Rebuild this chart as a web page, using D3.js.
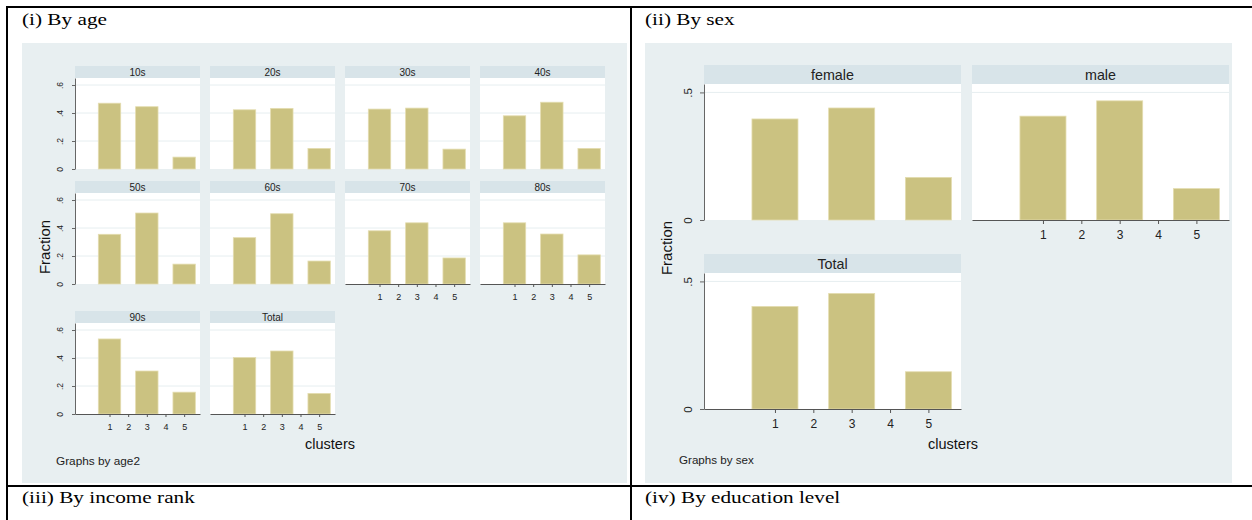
<!DOCTYPE html>
<html>
<head>
<meta charset="utf-8">
<script src="https://cdn.jsdelivr.net/npm/d3@7"></script>
<style>
  body { margin: 0; background: #fff; }
  svg { display: block; }
</style>
</head>
<body>
<svg id="chart" width="1252" height="520"></svg>
<script>
// ---- data ----
const clusters = [1, 2, 3, 4, 5];

const ageGroups = ["10s", "20s", "30s", "40s", "50s", "60s", "70s", "80s", "90s", "Total"];
// fraction of respondents in each cluster (clusters 2 and 4 are empty)
const ageFractions = [
  [0.470, 0, 0.445, 0, 0.085],
  [0.423, 0, 0.433, 0, 0.147],
  [0.428, 0, 0.435, 0, 0.142],
  [0.380, 0, 0.477, 0, 0.147],
  [0.355, 0, 0.507, 0, 0.142],
  [0.331, 0, 0.502, 0, 0.164],
  [0.380, 0, 0.437, 0, 0.186],
  [0.437, 0, 0.357, 0, 0.208],
  [0.536, 0, 0.307, 0, 0.156],
  [0.403, 0, 0.450, 0, 0.147]
];
const ageYTicks = [0, 0.2, 0.4, 0.6];
const ageYLabels = ["0", ".2", ".4", ".6"];

const sexGroups = ["female", "male", "Total"];
const sexFractions = [
  [0.396, 0, 0.439, 0, 0.167],
  [0.407, 0, 0.467, 0, 0.123],
  [0.402, 0, 0.453, 0, 0.146]
];
const sexYTicks = [0, 0.5];
const sexYLabels = ["0", ".5"];

const xTickLabels = ["1", "2", "3", "4", "5"];
const cellTitles = ["(i) By age", "(ii) By sex", "(iii) By income rank", "(iv) By education level"];

// ---- style ----
const SANS = "'Liberation Sans', Arial, sans-serif";
const SERIF = "'Liberation Serif', 'Times New Roman', serif";
const BG = "#e8eff1";
const HEAD = "#d8e4e9";
const BAR = "#cbc281";
const BAR_EDGE = "#e4ddb0";
const GRID = "#e6eef0";
const AXIS = "#666";

const svg = d3.select("#chart");

// ---- table frame ----
const frame = svg.append("g");
frame.append("rect").attr("x", 6).attr("y", 6).attr("width", 1246).attr("height", 2).attr("fill", "#000");
frame.append("rect").attr("x", 6).attr("y", 6).attr("width", 2).attr("height", 514).attr("fill", "#000");
frame.append("rect").attr("x", 630).attr("y", 6).attr("width", 2).attr("height", 514).attr("fill", "#000");
frame.append("rect").attr("x", 6).attr("y", 485).attr("width", 1246).attr("height", 2).attr("fill", "#000");

// cell captions (serif, slightly widened like the typeset document)
const captionPos = [[22, 25], [645, 25], [22, 503], [645, 503]];
cellTitles.forEach((t, i) => {
  svg.append("text")
    .attr("transform", `translate(${captionPos[i][0]},${captionPos[i][1]}) scale(1.25,1)`)
    .attr("font-family", SERIF).attr("font-size", 17).attr("fill", "#000")
    .text(t);
});

// ---- faceted histogram ----
function facets(opt) {
  const g = svg.append("g");
  g.append("rect").attr("x", opt.bg[0]).attr("y", opt.bg[1])
    .attr("width", opt.bg[2]).attr("height", opt.bg[3]).attr("fill", BG);

  const n = opt.groups.length;
  opt.groups.forEach((name, i) => {
    const col = i % opt.ncol, row = Math.floor(i / opt.ncol);
    const x0 = opt.colX[col], ht = opt.rowY[row];
    const top = ht + opt.hh, bottom = top + opt.ph;
    const x = d3.scaleLinear().domain(opt.xDomain).range([x0, x0 + opt.pw]);
    const y = d3.scaleLinear().domain([0, opt.yMax]).range([bottom, top]);
    const p = g.append("g");

    // strip header
    p.append("rect").attr("x", x0).attr("y", ht).attr("width", opt.pw).attr("height", opt.hh).attr("fill", HEAD);
    p.append("text").attr("x", x0 + opt.pw / 2).attr("y", ht + opt.headBase)
      .attr("text-anchor", "middle").attr("font-family", SANS)
      .attr("font-size", opt.headSize).attr("fill", "#222").text(name);

    // plot region
    p.append("rect").attr("x", x0).attr("y", top).attr("width", opt.pw).attr("height", opt.ph).attr("fill", "#fff");
    p.selectAll("line.grid").data(opt.yTicks.filter(t => t > 0)).join("line")
      .attr("class", "grid")
      .attr("x1", x0).attr("x2", x0 + opt.pw)
      .attr("y1", d => y(d)).attr("y2", d => y(d))
      .attr("stroke", GRID).attr("stroke-width", 1);

    // bars
    const vals = opt.values[i];
    p.selectAll("rect.bar").data(clusters.map((c, k) => ({ c, v: vals[k] })).filter(d => d.v > 0)).join("rect")
      .attr("class", "bar")
      .attr("x", d => x(d.c - 0.6)).attr("width", d => x(d.c + 0.6) - x(d.c - 0.6))
      .attr("y", d => y(d.v)).attr("height", d => bottom - y(d.v))
      .attr("fill", BAR).attr("stroke", BAR_EDGE).attr("stroke-width", 0.8);

    // y axis on the first column
    if (col === 0) {
      const ya = p.append("g").attr("transform", `translate(${x0},0)`)
        .call(d3.axisLeft(y).tickValues(opt.yTicks).tickSize(opt.tickLen).tickSizeOuter(0)
          .tickFormat((d, k) => opt.yLabels[k]));
      ya.select(".domain").attr("stroke", AXIS);
      ya.selectAll(".tick line").attr("stroke", AXIS);
      ya.selectAll(".tick text")
        .attr("x", null).attr("dy", null)
        .attr("transform", `translate(${-opt.yLabOff},0) rotate(-90)`)
        .attr("text-anchor", "middle")
        .attr("font-family", SANS).attr("font-size", opt.yTickSize).attr("fill", "#222");
    }

    // x axis on the bottom panel of each column
    if (i + opt.ncol >= n) {
      const xa = p.append("g").attr("transform", `translate(0,${bottom})`)
        .call(d3.axisBottom(x).tickValues(clusters).tickSize(opt.tickLen).tickSizeOuter(0)
          .tickFormat((d, k) => xTickLabels[k]));
      xa.select(".domain").attr("stroke", "#555").attr("stroke-width", 1.2);
      xa.selectAll(".tick line").attr("stroke", "#555");
      xa.selectAll(".tick text")
        .attr("y", opt.xLabBase).attr("dy", null)
        .attr("font-family", SANS).attr("font-size", opt.xTickSize).attr("fill", "#222");
    }
  });

  // shared titles
  g.append("text")
    .attr("transform", `translate(${opt.ytitle[0]},${opt.ytitle[1]}) rotate(-90)`)
    .attr("text-anchor", "middle").attr("font-family", SANS).attr("font-size", 15).attr("fill", "#111")
    .text("Fraction");
  g.append("text").attr("x", opt.xtitle[0]).attr("y", opt.xtitle[1])
    .attr("font-family", SANS).attr("font-size", 14.5).attr("fill", "#111")
    .text("clusters");
  g.append("text").attr("x", opt.note[0]).attr("y", opt.note[1])
    .attr("font-family", SANS).attr("font-size", opt.noteSize).attr("fill", "#222")
    .text(opt.noteText);
}

// (i) by age
facets({
  bg: [22, 43, 605, 440],
  groups: ageGroups, values: ageFractions, ncol: 4,
  colX: [75, 210, 345, 480], rowY: [66, 181, 311],
  pw: 125, hh: 12, ph: 91,
  xDomain: [-0.85, 5.85], yMax: 0.65,
  yTicks: ageYTicks, yLabels: ageYLabels,
  headSize: 10, headBase: 9.5,
  tickLen: 3, yLabOff: 12.3, yTickSize: 8.5,
  xLabBase: 15.5, xTickSize: 9,
  ytitle: [50, 247], xtitle: [305, 449],
  note: [56, 465], noteSize: 11.8, noteText: "Graphs by age2"
});

// (ii) by sex
facets({
  bg: [645, 43, 587, 440],
  groups: sexGroups, values: sexFractions, ncol: 2,
  colX: [704, 972], rowY: [65, 254],
  pw: 257, hh: 19, ph: 136,
  xDomain: [-0.85, 5.85], yMax: 0.533,
  yTicks: sexYTicks, yLabels: sexYLabels,
  headSize: 14.3, headBase: 14.8,
  tickLen: 4, yLabOff: 12, yTickSize: 11.5,
  xLabBase: 19, xTickSize: 12,
  ytitle: [672, 248], xtitle: [928, 449],
  note: [679, 464], noteSize: 11.6, noteText: "Graphs by sex"
});
</script>
</body>
</html>
